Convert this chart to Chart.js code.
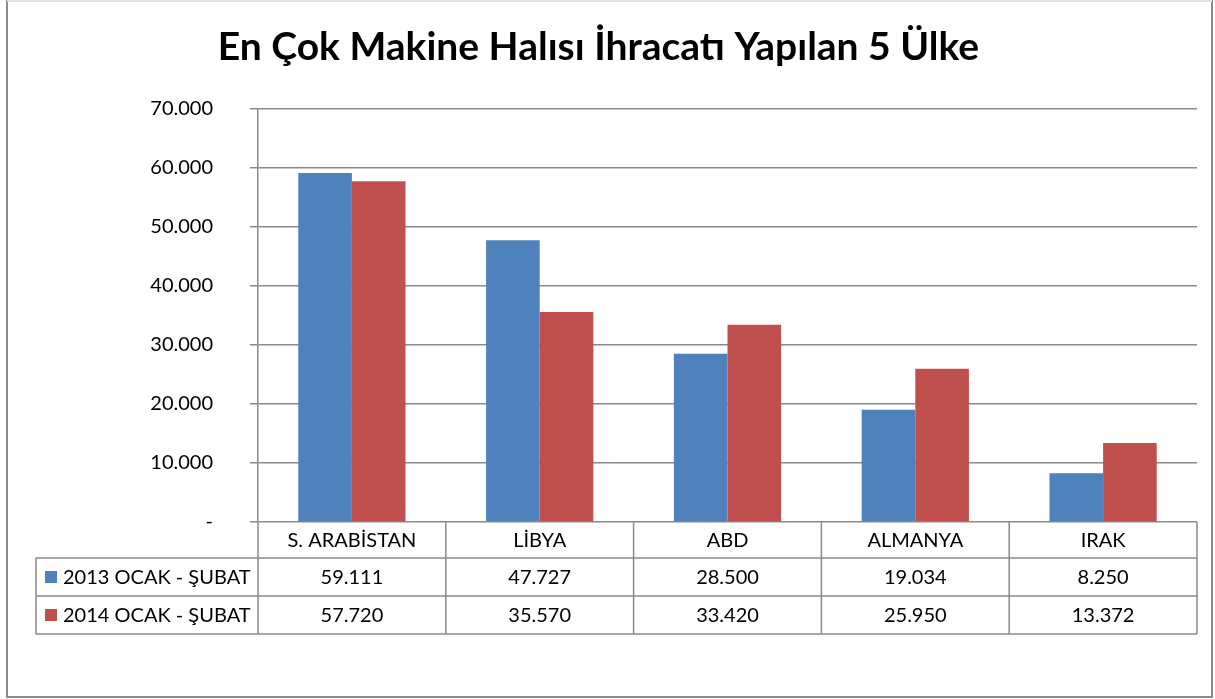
<!DOCTYPE html>
<html lang="tr">
<head>
<meta charset="utf-8" />
<title>En Çok Makine Halısı İhracatı Yapılan 5 Ülke</title>
<script src="https://cdn.jsdelivr.net/npm/chart.js@4.4.1/dist/chart.umd.min.js"></script>
<style>
  html, body { margin: 0; padding: 0; background: #fff; }
  #wrap { width: 1215px; height: 699px; position: relative; }
</style>
</head>
<body>
<div id="wrap"><canvas id="chart" width="1215" height="699"></canvas></div>
<script>
// chart data
var titleText = 'En Çok Makine Halısı İhracatı Yapılan 5 Ülke';
var countries = ['S. ARABİSTAN', 'LİBYA', 'ABD', 'ALMANYA', 'IRAK'];
var seriesNames = ['2013 OCAK - ŞUBAT', '2014 OCAK - ŞUBAT'];
var values2013 = [59111, 47727, 28500, 19034, 8250];
var values2014 = [57720, 35570, 33420, 25950, 13372];
var yMax = 70000;
var yStep = 10000;

var colors = ['#4F81BD', '#C0504D'];
var lineColor = '#8a8a8a';
var fontFamily = 'Lato, "Open Sans", sans-serif';

// 1.234 style number format, 0 shown as "-"
function fmt(n) {
    if (n === 0) return '-';
    return String(n).replace(/\B(?=(\d{3})+(?!\d))/g, '.');
}

// draws the data table under the plot and the outer frame
var dataTablePlugin = {
    id: 'dataTable',
    afterDraw: function(chart) {
        var ctx = chart.ctx;
        var x = chart.scales.x;
        var area = chart.chartArea;
        var rowH = [36, 38, 38];
        var top = area.bottom;
        var keyLeft = 36;
        var half = (x.getPixelForValue(1) - x.getPixelForValue(0)) / 2;
        var rows = [top, top + rowH[0], top + rowH[0] + rowH[1], top + rowH[0] + rowH[1] + rowH[2]];

        ctx.save();
        ctx.strokeStyle = lineColor;
        ctx.lineWidth = 1.5;
        ctx.beginPath();
        // horizontal lines
        for (var r = 1; r < rows.length; r++) {
            ctx.moveTo(keyLeft, rows[r]);
            ctx.lineTo(area.right, rows[r]);
        }
        // vertical lines
        ctx.moveTo(keyLeft, rows[1]);
        ctx.lineTo(keyLeft, rows[3]);
        for (var i = 0; i <= countries.length; i++) {
            var vx = x.getPixelForValue(0) - half + i * half * 2;
            ctx.moveTo(vx, rows[0]);
            ctx.lineTo(vx, rows[3]);
        }
        ctx.stroke();

        ctx.fillStyle = '#000';
        ctx.font = '20px ' + fontFamily;
        ctx.textAlign = 'center';
        ctx.textBaseline = 'middle';
        var allValues = [values2013, values2014];
        for (var c = 0; c < countries.length; c++) {
            var cx = x.getPixelForValue(c);
            ctx.fillText(countries[c], cx, (rows[0] + rows[1]) / 2 + 1);
            for (var s = 0; s < 2; s++) {
                ctx.fillText(fmt(allValues[s][c]), cx, (rows[s + 1] + rows[s + 2]) / 2 + 1);
            }
        }

        // legend keys
        ctx.textAlign = 'left';
        for (var k = 0; k < seriesNames.length; k++) {
            var cy = (rows[k + 1] + rows[k + 2]) / 2;
            ctx.fillStyle = colors[k];
            ctx.fillRect(keyLeft + 9, cy - 6, 12, 12);
            ctx.fillStyle = '#000';
            ctx.fillText(seriesNames[k], keyLeft + 27, cy + 1);
        }

        // outer frame
        ctx.strokeStyle = '#8c8c8c';
        ctx.lineWidth = 2;
        ctx.beginPath();
        ctx.moveTo(7, 0);
        ctx.lineTo(7, 697);
        ctx.lineTo(1212, 697);
        ctx.lineTo(1212, 0);
        ctx.stroke();
        ctx.strokeStyle = '#e0e0e0';
        ctx.beginPath();
        ctx.moveTo(7, 1);
        ctx.lineTo(1212, 1);
        ctx.stroke();
        ctx.restore();
    }
};

var chart = new Chart(document.getElementById('chart').getContext('2d'), {
    type: 'bar',
    data: {
        labels: countries,
        datasets: [
            { label: seriesNames[0], data: values2013, backgroundColor: colors[0] },
            { label: seriesNames[1], data: values2014, backgroundColor: colors[1] }
        ]
    },
    options: {
        responsive: false,
        animation: false,
        layout: { padding: { left: 0, right: 18, top: 0, bottom: 177 } },
        datasets: {
            bar: { categoryPercentage: 0.571, barPercentage: 1 }
        },
        plugins: {
            legend: { display: false },
            tooltip: { enabled: false },
            title: {
                display: true,
                text: titleText,
                color: '#000',
                font: { family: fontFamily, size: 39, weight: 'bold' },
                padding: { top: 24, bottom: 38 }
            }
        },
        scales: {
            x: { display: false },
            y: {
                min: 0,
                max: yMax,
                afterFit: function(scale) { scale.width = 258; },
                ticks: {
                    stepSize: yStep,
                    color: '#000',
                    padding: 37,
                    font: { family: fontFamily, size: 20 },
                    callback: function(v) { return fmt(v); }
                },
                grid: { color: lineColor, lineWidth: 1.5, tickLength: 8 },
                border: { color: lineColor, width: 1.5 }
            }
        }
    },
    plugins: [dataTablePlugin]
});
</script>
</body>
</html>
